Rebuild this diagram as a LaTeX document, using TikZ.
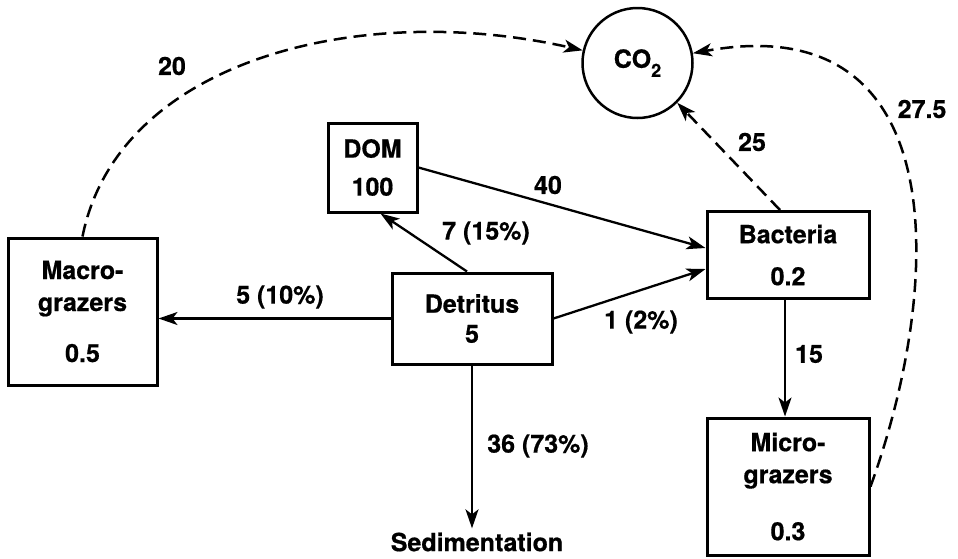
\documentclass[tikz,border=0pt]{standalone}
\usepackage{fontspec}
\setmainfont{TeX Gyre Heros}[BoldFeatures={FakeBold=0.6}]
\usetikzlibrary{arrows.meta,calc}
\begin{document}
\begin{tikzpicture}[x=1pt,y=-1pt,
  every node/.style={font=\bfseries\fontsize{25}{30}\selectfont},
  box/.style={draw, line width=3pt, inner sep=0pt, align=center},
  flow/.style={line width=2.3pt, -{Stealth[length=19pt,width=13pt,inset=5pt]}},
  resp/.style={flow, line width=2.5pt, dash pattern=on 13pt off 7pt},
  lab/.style={inner sep=0pt}
]
\useasboundingbox (0,0) rectangle (958,558);
% compartments
\node[box, minimum width=149pt, minimum height=147pt] (mac) at (82.5,311.5) {Macro-\\[2pt]grazers\\[21pt]0.5};
\node[box, minimum width=160pt, minimum height=91pt] (det) at (472,318.5) {Detritus\\5};
\node[box, minimum width=89pt, minimum height=89pt] (dom) at (372.5,167.5) {DOM\\[8pt]100};
\node[box, minimum width=162pt, minimum height=87pt] (bac) at (788,255) {Bacteria\\[12pt]0.2};
\node[box, minimum width=162pt, minimum height=137pt] (mic) at (788,486.5) {Micro-\\[2pt]grazers\\[27pt]0.3};
\node[draw, circle, line width=2.5pt, minimum size=110pt, inner sep=0pt] (co2) at (637.5,63) {CO\raisebox{-9pt}{\fontsize{18}{18}\selectfont 2}};
\node[inner sep=4pt] (sed) at (477,542) {Sedimentation};
% solid flows
\draw[flow] (det.west) -- (det.west -| mac.east);
\draw[flow] ($(det.north)+(-5,0)$) -- ($(dom.south)+(8,0)$);
\draw[flow] (dom.east) -- ($(bac.west)+(0,-7)$);
\draw[flow] (det.east) -- ($(bac.west)+(0,14)$);
\draw[flow] ($(bac.south)+(-3,0)$) -- ($(mic.north)+(-3,0)$);
\draw[flow] (det.south) -- (det.south |- sed.north);
% respiration
\draw[resp] ($(bac.north)+(-8,0)$) -- (co2.-45);
\draw[resp] (mac.north) .. controls (118,60) and (360,0) .. (co2.167);
\draw[resp] (mic.east) .. controls (942,290) and (958,5) .. (co2.10);
% labels
\node[lab] (l20) at (172,66) {20};
\node[lab] (l40) at (548,185) {40};
\node[lab] (l25) at (752,142) {25};
\node[lab] (l275) at (922,109) {27.5};
\node[lab] (l7) at (486,233) {7 (15\%)};
\node[lab] (l5) at (280,297) {5 (10\%)};
\node[lab] (l1) at (641,322) {1 (2\%)};
\node[lab] (l15) at (809,354) {15};
\node[lab] (l36) at (538,446) {36 (73\%)};
\end{tikzpicture}
\end{document}
